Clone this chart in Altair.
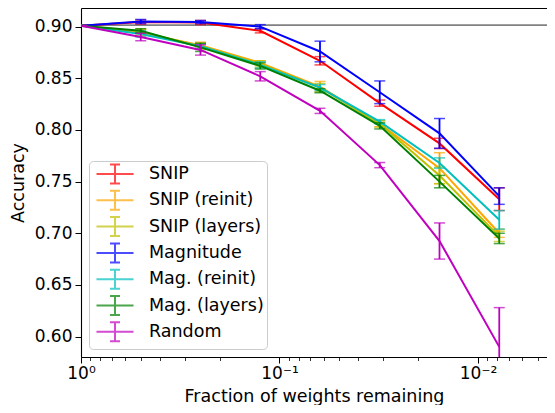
import altair as alt
import pandas as pd

# ---------------- data ----------------
fractions = [1.0, 0.5, 0.25, 0.125, 0.0625, 0.03125, 0.015625, 0.0078125]

series_names = ["SNIP", "SNIP (reinit)", "SNIP (layers)", "Magnitude",
                "Mag. (reinit)", "Mag. (layers)", "Random"]
series_colors = ["#ff0000", "#ffa500", "#bfbf00", "#0000ff",
                 "#00bfbf", "#008000", "#bf00bf"]

snip_mean = [0.901, 0.9045, 0.904, 0.896, 0.867, 0.826, 0.787, 0.733]
snip_err = [0.0, 0.002, 0.002, 0.002, 0.004, 0.003, 0.005, 0.011]

snip_reinit_mean = [0.901, 0.894, 0.882, 0.865, 0.842, 0.806, 0.763, 0.700]
snip_reinit_err = [0.0, 0.003, 0.003, 0.002, 0.005, 0.003, 0.015, 0.004]

snip_layers_mean = [0.901, 0.895, 0.881, 0.864, 0.841, 0.806, 0.756, 0.697]
snip_layers_err = [0.0, 0.003, 0.003, 0.003, 0.004, 0.003, 0.008, 0.005]

magnitude_mean = [0.901, 0.905, 0.9045, 0.900, 0.876, 0.8365, 0.7967, 0.736]
magnitude_err = [0.0, 0.002, 0.0015, 0.002, 0.010, 0.011, 0.0144, 0.008]

mag_reinit_mean = [0.901, 0.893, 0.881, 0.863, 0.841, 0.808, 0.768, 0.713]
mag_reinit_err = [0.0, 0.003, 0.002, 0.003, 0.003, 0.002, 0.005, 0.009]

mag_layers_mean = [0.901, 0.896, 0.880, 0.862, 0.838, 0.804, 0.750, 0.695]
mag_layers_err = [0.0, 0.002, 0.004, 0.003, 0.002, 0.003, 0.006, 0.005]

random_mean = [0.901, 0.890, 0.8775, 0.852, 0.8185, 0.766, 0.6925, 0.590]
random_err = [0.0, 0.0036, 0.005, 0.0045, 0.0025, 0.0025, 0.0175, 0.038]

dense_accuracy = [0.9015]

x_major_ticks = [1.0, 0.1, 0.01]
x_major_labels = ["10⁰", "10⁻¹", "10⁻²"]
x_minor_ticks = [0.9, 0.8, 0.7, 0.6, 0.5, 0.4, 0.3, 0.2,
                 0.09, 0.08, 0.07, 0.06, 0.05, 0.04, 0.03, 0.02,
                 0.009, 0.008, 0.007, 0.006, 0.005]
y_ticks = [0.60, 0.65, 0.70, 0.75, 0.80, 0.85, 0.90]

x_domain = [0.00449, 1.0]
y_domain = [0.5802, 0.9181]

# ---------------- build table ----------------
means = [snip_mean, snip_reinit_mean, snip_layers_mean, magnitude_mean,
         mag_reinit_mean, mag_layers_mean, random_mean]
errs = [snip_err, snip_reinit_err, snip_layers_err, magnitude_err,
        mag_reinit_err, mag_layers_err, random_err]

rows = []
for name, m, e in zip(series_names, means, errs):
    for f, mv, ev in zip(fractions, m, e):
        rows.append({"series": name, "frac": f, "mean": mv,
                     "lo": mv - ev, "hi": mv + ev})
df = pd.DataFrame(rows)

FONT = "DejaVu Sans"
TICK_FS = 17
TEXT_FS = 17.5
SPINE = 1.1

xscale = alt.Scale(type="log", domain=x_domain, reverse=True, nice=False)
yscale = alt.Scale(domain=y_domain, nice=False, zero=False)

label_map = " : ".join(
    f"datum.value == {v} ? '{l}'" for v, l in zip(x_major_ticks, x_major_labels)
) + " : ''"

x_axis = alt.Axis(values=x_major_ticks, labelExpr=label_map, grid=False,
                  domain=True, domainColor="black", domainWidth=SPINE,
                  tickColor="black", tickSize=6, tickWidth=1,
                  labelColor="black", labelFontSize=TICK_FS, labelPadding=2,
                  title="Fraction of weights remaining", titleFontSize=TEXT_FS,
                  titleFontWeight="normal", titleColor="black", titlePadding=6,
                  orient="bottom", labelFont=FONT, titleFont=FONT,
                  labelFlush=False, labelOverlap=False)
x_minor_axis = alt.Axis(values=x_minor_ticks, labels=False, grid=False,
                        domain=False, tickColor="black", tickSize=3.5,
                        tickWidth=0.8, title=None, orient="bottom")
x_top_axis = alt.Axis(labels=False, ticks=False, grid=False, domain=True,
                      domainColor="black", domainWidth=SPINE, title=None,
                      orient="top")
y_axis = alt.Axis(values=y_ticks, format=".2f", grid=False, domain=True,
                  domainColor="black", domainWidth=SPINE,
                  tickColor="black", tickSize=6, tickWidth=1,
                  labelColor="black", labelFontSize=TICK_FS, labelPadding=3,
                  title="Accuracy", titleFontSize=TEXT_FS,
                  titleFontWeight="normal", titleColor="black",
                  titlePadding=7, labelFont=FONT, titleFont=FONT,
                  labelFlush=False, labelOverlap=False)

color_scale = alt.Scale(domain=series_names, range=series_colors)
# error-bar glyph, in units of sqrt(symbolSize)/2 = 9 px
glyph = ("M-2.056,0H2.056M0,-1.056V1.056"
         "M-0.556,-1.056H0.556M-0.556,1.056H0.556")
legend = alt.Legend(title=None, orient="bottom-left", offset=8,
                    symbolType=glyph, symbolSize=324, symbolStrokeWidth=2,
                    symbolOffset=13, labelOffset=24, rowPadding=-1.7,
                    padding=3, labelFontSize=TEXT_FS, labelColor="black",
                    labelFont=FONT, fillColor="rgba(255,255,255,0.8)",
                    strokeColor="#cccccc", cornerRadius=4,
                    labelExpr="datum.label + ' '")

X = alt.X("frac:Q", scale=xscale, axis=x_axis)

layers = []
layers.append(
    alt.Chart(pd.DataFrame({"acc": dense_accuracy}))
    .mark_rule(color="#808080", strokeWidth=1.6)
    .encode(y=alt.Y("acc:Q", scale=yscale, axis=y_axis))
)

for i, name in enumerate(series_names):
    sub = df[df["series"] == name]
    line = alt.Chart(sub).mark_line(strokeWidth=2, clip=True).encode(
        x=X,
        y=alt.Y("mean:Q", scale=yscale, axis=y_axis),
        color=alt.Color("series:N", scale=color_scale, legend=legend),
    )
    bars = alt.Chart(sub).mark_rule(strokeWidth=1.8, clip=True).encode(
        x=X,
        y=alt.Y("lo:Q", scale=yscale, axis=y_axis),
        y2="hi:Q",
        color=alt.Color("series:N", scale=color_scale, legend=legend),
    )
    caps = (
        alt.Chart(sub)
        .transform_fold(["lo", "hi"], as_=["bound", "val"])
        .mark_tick(orient="horizontal", size=11, thickness=1.5, clip=True)
        .encode(
            x=X,
            y=alt.Y("val:Q", scale=yscale, axis=y_axis),
            color=alt.Color("series:N", scale=color_scale, legend=legend),
        )
    )
    layers += [line, bars, caps]

main = alt.layer(*layers)

minor = alt.Chart(df).mark_point(opacity=0).encode(
    x=alt.X("frac:Q", scale=xscale, axis=x_minor_axis),
    y=alt.Y("mean:Q", scale=yscale, axis=y_axis),
)
top = alt.Chart(df).mark_point(opacity=0).encode(
    x=alt.X("frac:Q", scale=xscale, axis=x_top_axis),
    y=alt.Y("mean:Q", scale=yscale, axis=y_axis),
)

chart = (
    alt.layer(main, minor, top)
    .resolve_axis(x="independent")
    .properties(
        width=466, height=349,
        autosize=alt.AutoSizeParams(type="none"),
        padding={"left": 73, "top": 0, "right": 0, "bottom": 48},
    )
    .configure_view(stroke=None)
    .configure(font=FONT)
)

chart.save("out.html", embed_options={"renderer": "svg", "actions": False})
